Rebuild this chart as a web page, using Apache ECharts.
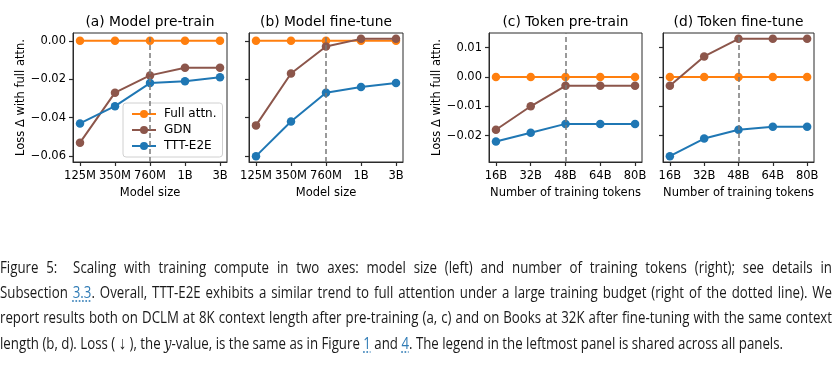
<!DOCTYPE html>
<html><head><meta charset="utf-8">
<script src="https://cdn.jsdelivr.net/npm/echarts@6/dist/echarts.min.js"></script>
<style>
html,body{margin:0;padding:0;background:#fff;width:832px;height:379px;overflow:hidden;}
#chart{position:absolute;left:0;top:0;width:832px;height:379px;}
#cap{position:absolute;left:0;top:255px;transform-origin:0 0;font-family:"Open Sans";font-size:16px;color:#1a1a1a;}
#cap .ln{height:25px;line-height:25px;text-align:justify;text-align-last:justify;white-space:nowrap;}
#cap .ln.last{text-align:left;text-align-last:left;}
#cap a{color:#2f7bb5;text-decoration:underline dotted;text-underline-offset:3px;}
#cap i{font-family:"DejaVu Serif";font-style:italic;}
#cap .arr{font-size:18px;}
</style></head>
<body>
<div id="chart"></div>
<div id="cap"></div>
<script>
// ---- data ----
const modelSizes = ['125M', '350M', '760M', '1B', '3B'];
const tokenCounts = ['16B', '32B', '48B', '64B', '80B'];
const seriesNames = ['Full attn.', 'GDN', 'TTT-E2E'];
const panelTitles = ['(a) Model pre-train', '(b) Model fine-tune', '(c) Token pre-train', '(d) Token fine-tune'];
const xNames = ['Model size', 'Model size', 'Number of training tokens', 'Number of training tokens'];
const yName = 'Loss \u0394 with full attn.';

const fullAttnModelPre = [0, 0, 0, 0, 0];
const gdnModelPre = [-0.053, -0.027, -0.018, -0.014, -0.014];
const tttModelPre = [-0.043, -0.034, -0.022, -0.021, -0.019];

const fullAttnModelFt = [0, 0, 0, 0, 0];
const gdnModelFt = [-0.044, -0.017, -0.003, 0.001, 0.001];
const tttModelFt = [-0.060, -0.042, -0.027, -0.024, -0.022];

const fullAttnTokenPre = [0, 0, 0, 0, 0];
const gdnTokenPre = [-0.018, -0.010, -0.003, -0.003, -0.003];
const tttTokenPre = [-0.022, -0.019, -0.016, -0.016, -0.016];

const fullAttnTokenFt = [0, 0, 0, 0, 0];
const gdnTokenFt = [-0.003, 0.007, 0.013, 0.013, 0.013];
const tttTokenFt = [-0.027, -0.021, -0.018, -0.017, -0.017];

const modelYTicks = [-0.06, -0.04, -0.02, 0.00];
const tokenYTicks = [-0.02, -0.01, 0.00, 0.01];
const budgetIndex = 2; // dotted line: 760M / 48B

// caption lines
const captionLines = [
  'Figure 5:&nbsp; Scaling with training compute in two axes: model size (left) and number of training tokens (right); see details in',
  'Subsection <a>3.3</a>. Overall, TTT-E2E exhibits a similar trend to full attention under a large training budget (right of the dotted line). We',
  'report results both on DCLM at 8K context length after pre-training (a, c) and on Books at 32K after fine-tuning with the same context',
  'length (b, d). Loss ( <span class="arr">\u2193</span> ), the <i>y</i>-value, is the same as in Figure <a>1</a> and <a>4</a>. The legend in the leftmost panel is shared across all panels.'
];

// ---- layout ----
const panels = [
  {cats: modelSizes, vals: [fullAttnModelPre, gdnModelPre, tttModelPre], yTicks: modelYTicks, showY: true},
  {cats: modelSizes, vals: [fullAttnModelFt, gdnModelFt, tttModelFt], yTicks: modelYTicks, showY: false},
  {cats: tokenCounts, vals: [fullAttnTokenPre, gdnTokenPre, tttTokenPre], yTicks: tokenYTicks, showY: true},
  {cats: tokenCounts, vals: [fullAttnTokenFt, gdnTokenFt, tttTokenFt], yTicks: tokenYTicks, showY: false}
];
const gridBoxes = [
  {left: 73, top: 33, width: 154, height: 129},
  {left: 249, top: 33, width: 154, height: 129},
  {left: 489, top: 33, width: 153, height: 129},
  {left: 663, top: 33, width: 151, height: 129}
];
const colors = ['#ff7f0e', '#8c564b', '#1f77b4'];
const FONT = 'DejaVu Sans';
const AX = '#2b2b2b';

function yRange(pairIdx) {
  const ps = pairIdx === 0 ? [panels[0], panels[1]] : [panels[2], panels[3]];
  let lo = Infinity, hi = -Infinity;
  ps.forEach(p => p.vals.forEach(a => a.forEach(v => { lo = Math.min(lo, v); hi = Math.max(hi, v); })));
  const m = (hi - lo) * 0.05;
  return [lo - m, hi + m];
}
const yr = [yRange(0), yRange(0), yRange(1), yRange(1)];
const minus = s => s.replace('-', '\u2212');

const option = {
  animation: false,
  grid: gridBoxes.map(g => Object.assign({show: true, borderColor: AX, borderWidth: 1, backgroundColor: 'transparent'}, g)),
  xAxis: panels.map((p, i) => ({
    type: 'value', gridIndex: i, min: -0.2, max: p.cats.length - 1 + 0.2, position: 'bottom',
    axisLine: {show: true, onZero: false, lineStyle: {color: AX, width: 1}},
    splitLine: {show: false},
    axisTick: {show: true, customValues: p.cats.map((c, j) => j), length: 4, lineStyle: {color: AX, width: 1.2}},
    axisLabel: {customValues: p.cats.map((c, j) => j), formatter: v => p.cats[Math.round(v)], fontSize: 11.5, fontFamily: FONT, color: '#000', margin: 8},
    name: xNames[i], nameLocation: 'middle', nameGap: 25,
    nameTextStyle: {fontSize: 11.5, fontFamily: FONT, color: '#000'}
  })),
  yAxis: panels.map((p, i) => ({
    type: 'value', gridIndex: i, min: yr[i][0], max: yr[i][1], position: 'left',
    axisLine: {show: true, onZero: false, lineStyle: {color: AX, width: 1}},
    splitLine: {show: false},
    axisTick: {show: true, customValues: p.yTicks, length: 4, lineStyle: {color: AX, width: 1.2}},
    axisLabel: {show: p.showY, customValues: p.yTicks, formatter: v => minus(v.toFixed(2)), fontSize: 11.5, fontFamily: FONT, color: '#000', margin: 7},
    name: p.showY ? yName : '', nameLocation: 'middle', nameGap: 46,
    nameTextStyle: {fontSize: 11.5, fontFamily: FONT, color: '#000'}
  })),
  legend: {
    data: seriesNames, orient: 'vertical', left: 123, top: 103,
    padding: [4, 6, 4, 8], itemWidth: 24, itemHeight: 10, itemGap: 2,
    textStyle: {fontSize: 12, fontFamily: FONT, color: '#000', lineHeight: 14, padding: [0, 0, 0, 3]},
    backgroundColor: 'rgba(255,255,255,0.8)', borderColor: '#d0d0d0', borderWidth: 1, borderRadius: 3
  },
  graphic: panelTitles.map((t, i) => ({
    type: 'text', x: gridBoxes[i].left + gridBoxes[i].width / 2, y: 22,
    style: {text: t, align: 'center', verticalAlign: 'middle', fontSize: 13.8, fontFamily: FONT, fill: '#000'}
  })),
  series: []
};

panels.forEach((p, i) => {
  p.vals.forEach((arr, k) => {
    option.series.push({
      type: 'line', name: seriesNames[k], xAxisIndex: i, yAxisIndex: i,
      data: arr.map((v, j) => [j, v]),
      symbol: 'circle', symbolSize: 8.5, z: 2 + k,
      lineStyle: {width: 2, color: colors[k]},
      itemStyle: {color: colors[k]},
      emphasis: {disabled: true}, silent: true
    });
  });
  option.series.push({
    type: 'line', name: 'budget', xAxisIndex: i, yAxisIndex: i, data: [], z: 10, silent: true,
    markLine: {
      symbol: 'none', silent: true, animation: false, z: 10,
      label: {show: false},
      lineStyle: {color: '#7a7a7a', width: 1.5, type: [5, 3]},
      emphasis: {disabled: true},
      data: [{xAxis: budgetIndex}]
    }
  });
});

const chart = echarts.init(document.getElementById('chart'), null, {renderer: 'canvas'});
chart.setOption(option);

// ---- caption ----
const cap = document.getElementById('cap');
const spans = captionLines.map((h, i) => {
  const d = document.createElement('div');
  d.className = 'ln' + (i === captionLines.length - 1 ? ' last' : '');
  const s = document.createElement('span');
  s.innerHTML = h;
  d.appendChild(s);
  cap.appendChild(d);
  return s;
});
const k = 783 / spans[3].getBoundingClientRect().width;
cap.style.transform = 'scaleX(' + k + ')';
cap.querySelectorAll('.ln').forEach(d => { d.style.width = (832 / k) + 'px'; d.style.whiteSpace = 'normal'; });
</script>
</body></html>
